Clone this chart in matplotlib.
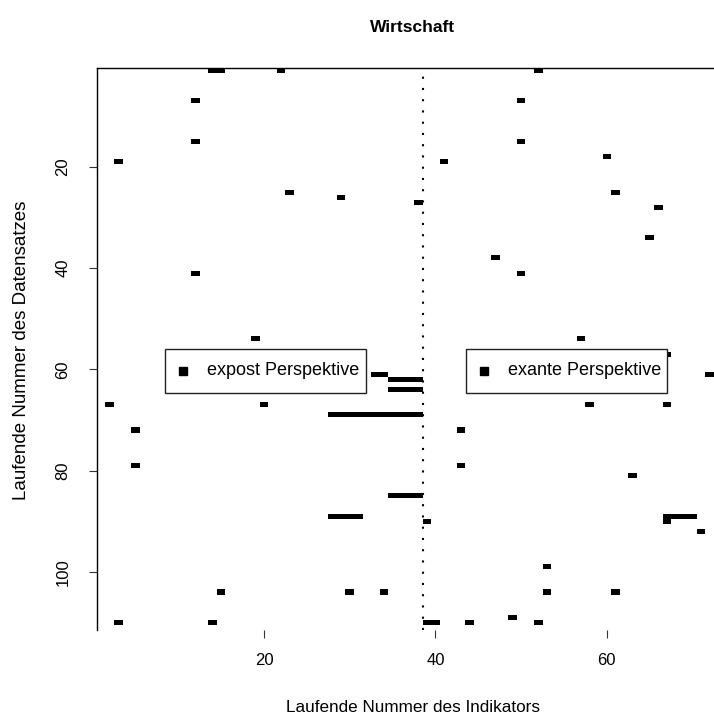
import numpy as np
import matplotlib
matplotlib.use("Agg")
import matplotlib.pyplot as plt
from matplotlib.colors import ListedColormap
from matplotlib.patches import Rectangle

plt.rcParams["font.family"] = ["Liberation Sans", "DejaVu Sans"]

# Matrix size: datasets (rows) x indicators (columns)
n_datasets = 111
n_indicators = 72
split_indicator = 38.5  # boundary between ex-post and ex-ante indicators

# Ex-post entries: dataset number, first and last indicator of a run
expost_dataset = [1, 1, 7, 15, 19, 25, 26, 27, 41, 54, 61, 62, 64, 67, 67,
                  69, 72, 79, 85, 89, 104, 104, 104, 110, 110]
expost_first = [14, 22, 12, 12, 3, 23, 29, 38, 12, 19, 33, 35, 35, 2, 20,
                28, 5, 5, 35, 28, 15, 30, 34, 3, 14]
expost_last = [15, 22, 12, 12, 3, 23, 29, 38, 12, 19, 34, 38, 38, 2, 20,
               38, 5, 5, 38, 31, 15, 30, 34, 3, 14]

# Ex-ante entries
exante_dataset = [1, 7, 15, 18, 19, 25, 28, 34, 38, 41, 54, 57, 61, 67, 67,
                  72, 79, 81, 89, 90, 90, 92, 99, 104, 104, 109, 110, 110, 110]
exante_first = [52, 50, 50, 60, 41, 61, 66, 65, 47, 50, 57, 67, 72, 58, 67,
                43, 43, 63, 67, 39, 67, 71, 53, 53, 61, 49, 39, 44, 52]
exante_last = [52, 50, 50, 60, 41, 61, 66, 65, 47, 50, 57, 67, 72, 58, 67,
               43, 43, 63, 70, 39, 67, 71, 53, 53, 61, 49, 40, 44, 52]

x_ticks = [20, 40, 60]
y_ticks = [20, 40, 60, 80, 100]
legend_labels = ["expost Perspektive", "exante Perspektive"]

# Build the occupancy matrix
matrix = np.zeros((n_datasets, n_indicators))
for ds, a, b in zip(expost_dataset + exante_dataset,
                    expost_first + exante_first,
                    expost_last + exante_last):
    matrix[ds - 1, a - 1:b] = 1

fig = plt.figure(figsize=(7.14, 7.18), dpi=100)
ax = fig.add_axes([96.9 / 714, 1 - 630 / 718, 1 - 96.9 / 714, (630 - 68) / 718])

xe = np.arange(0.5, n_indicators + 1.0, 1.0)
ye = np.arange(0.5, n_datasets + 1.0, 1.0)
ax.pcolormesh(xe, ye, np.ma.masked_equal(matrix, 0),
              cmap=ListedColormap(["black"]), vmin=0, vmax=1,
              antialiased=False, edgecolors="none")

ax.set_xlim(0.5, n_indicators + 0.5)
ax.set_ylim(n_datasets + 0.5, 0.5)

ax.axvline(split_indicator, color="black", lw=1.5, linestyle=(0, (1, 4.4)))

for side in ("right", "bottom"):
    ax.spines[side].set_visible(False)
for side in ("top", "left"):
    ax.spines[side].set_linewidth(1.0)
    ax.spines[side].set_color("black")

ax.set_xticks(x_ticks)
ax.set_yticks(y_ticks)
ax.tick_params(axis="both", direction="out", length=6, width=0.8,
               labelsize=12, color="#333333")
ax.tick_params(axis="x", pad=10.5)
ax.tick_params(axis="y", pad=13)
for lab in ax.get_yticklabels():
    lab.set_rotation(90)
    lab.set_va("center")

fig.text(413 / 714, 1 - 27 / 718, "Wirtschaft", ha="center", va="center",
         fontsize=12.5, fontweight="bold")
fig.text(413 / 714, 1 - 707 / 718, "Laufende Nummer des Indikators",
         ha="center", va="center", fontsize=12.3)
fig.text(22 / 714, 1 - 350 / 718, "Laufende Nummer des Datensatzes",
         ha="center", va="center", rotation=90, fontsize=13.5)

# Legend boxes for the two perspectives
boxes = [(0.1104, 0.4361), (0.598, 0.9234)]
for (x0, x1), label in zip(boxes, legend_labels):
    ax.add_patch(Rectangle((x0, 0.4222), x1 - x0, 0.5 - 0.4222,
                           transform=ax.transAxes, facecolor="white",
                           edgecolor="#222222", lw=1.0, zorder=5,
                           clip_on=False))
    ax.plot([x0 + 0.0291], [0.4609], marker="s", markersize=6.2,
            color="black", transform=ax.transAxes, zorder=6, clip_on=False)
    ax.text(x0 + 0.068, 0.4609, label, transform=ax.transAxes,
            ha="left", va="center", fontsize=13, zorder=6)

fig.savefig("out.png", dpi=100)
